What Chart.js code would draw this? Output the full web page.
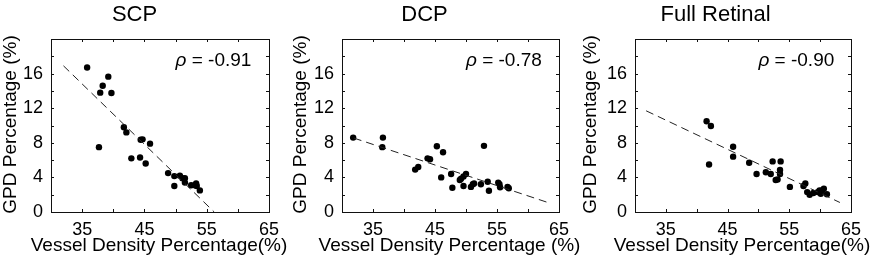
<!DOCTYPE html>
<html>
<head>
<meta charset="utf-8">
<script src="https://cdn.jsdelivr.net/npm/chart.js@4.4.1/dist/chart.umd.min.js"></script>
<style>
  body { margin: 0; background: #fff; }
  #wrap { position: relative; width: 877px; height: 263px; overflow: hidden; }
  .panel { position: absolute; top: 0; }
</style>
</head>
<body>
<div id="wrap">
  <div class="panel" style="left:0px"><canvas id="scpChart" width="300" height="263"></canvas></div>
  <div class="panel" style="left:290px"><canvas id="dcpChart" width="300" height="263"></canvas></div>
  <div class="panel" style="left:580px"><canvas id="fullChart" width="297" height="263"></canvas></div>
</div>
<script>
// tick labels shown on the axes
const xTickLabels = [35, 45, 55, 65];
const yTickLabels = [0, 4, 8, 12, 16];

// SCP
const scpVessel = [35.8, 37.9, 38.3, 39.2, 39.7, 37.7, 41.7, 42.1, 42.9, 44.3, 44.4, 44.7, 45.9, 45.2,
    48.8, 49.8, 49.8, 50.7, 51.1, 51.5, 51.5, 52.5, 53.1, 53.3, 53.4, 53.9];
const scpGpd = [16.7, 13.8, 14.6, 15.65, 13.75, 7.5, 9.8, 9.2, 6.2, 6.3, 8.35, 8.4, 7.9, 5.6,
    4.5, 4.15, 3.0, 4.2, 3.9, 3.9, 3.4, 3.1, 3.1, 3.3, 3.0, 2.5];
const scpFitX = [32, 56.2];
const scpFitY = [16.9, 0];

// DCP
const dcpVessel = [31.8, 36.6, 36.5, 41.8, 42.3, 43.8, 44.2, 45.3, 46.3, 46.0, 47.6, 47.8, 49.0, 49.2,
    49.6, 50.0, 49.6, 50.8, 51.1, 51.3, 52.4, 52.9, 53.5, 53.7, 55.2, 55.4, 55.5, 56.7, 56.9];
const dcpGpd = [8.6, 8.6, 7.5, 4.9, 5.2, 6.2, 6.1, 7.6, 6.9, 4.0, 4.4, 2.8, 3.7, 3.85,
    4.1, 4.4, 3.0, 2.9, 3.2, 3.3, 3.2, 7.65, 3.5, 2.45, 3.4, 3.2, 2.85, 2.9, 2.75];
const dcpFitX = [31.9, 63.2];
const dcpFitY = [8.55, 1.1];

// Full Retinal
const fullVessel = [41.6, 42.3, 42.0, 45.9, 45.9, 48.5, 49.7, 51.2, 52.0, 52.3, 52.8, 53.1, 53.5, 53.5,
    53.6, 55.1, 57.3, 57.6, 57.9, 58.3, 58.9, 59.6, 59.9, 60.3, 60.6, 60.1, 61.1];
const fullGpd = [10.5, 9.95, 5.5, 7.55, 6.4, 5.7, 4.4, 4.6, 4.4, 5.85, 3.7, 3.75, 4.85, 4.4,
    5.85, 2.9, 3.0, 3.3, 2.3, 2.0, 2.2, 2.3, 2.5, 2.5, 2.7, 2.1, 2.05];
const fullFitX = [31.8, 63.2];
const fullFitY = [11.7, 1.1];

const FONT = '"Liberation Sans", Arial, Helvetica, sans-serif';

// box, inner tick marks, axis titles and the correlation label
// (axis titles drawn here because Chart.js squeezes them to the axis length)
const framePlugin = {
    id: 'frame',
    afterDatasetsDraw(chart) {
        const ctx = chart.ctx;
        const a = chart.chartArea;
        const xs = chart.scales.x, ys = chart.scales.y;
        const opts = chart.options.plugins.frame;
        ctx.save();
        ctx.strokeStyle = '#111';
        ctx.lineWidth = 1;
        ctx.beginPath();
        xs.ticks.forEach(t => {
            const px = Math.round(xs.getPixelForValue(t.value)) + 0.5;
            ctx.moveTo(px, a.bottom); ctx.lineTo(px, a.bottom - 3);
            ctx.moveTo(px, a.top); ctx.lineTo(px, a.top + 3);
        });
        ys.ticks.forEach(t => {
            const py = Math.round(ys.getPixelForValue(t.value)) + 0.5;
            ctx.moveTo(a.left, py); ctx.lineTo(a.left + 3, py);
            ctx.moveTo(a.right, py); ctx.lineTo(a.right - 3, py);
        });
        ctx.stroke();
        ctx.strokeRect(Math.round(a.left) + 0.5, Math.round(a.top) + 0.5,
            Math.round(a.right - a.left), Math.round(a.bottom - a.top));

        // rho label
        let x = xs.getPixelForValue(50);
        const y = ys.getPixelForValue(16.9);
        ctx.fillStyle = '#000';
        ctx.textBaseline = 'alphabetic';
        ctx.textAlign = 'left';
        ctx.font = 'italic 19px ' + FONT;
        ctx.fillText('ρ', x, y);
        x += ctx.measureText('ρ').width;
        ctx.font = '19px ' + FONT;
        ctx.fillText(' = ' + opts.rho, x, y);

        // axis titles
        ctx.textAlign = 'center';
        ctx.textBaseline = 'middle';
        ctx.font = '19px ' + FONT;
        ctx.fillText(opts.xTitle, (a.left + a.right) / 2 - 1, a.bottom + 34);
        ctx.translate(11, (a.top + a.bottom) / 2 - 1);
        ctx.rotate(-Math.PI / 2);
        ctx.fillText(opts.yTitle, 0, 0);
        ctx.restore();
    }
};

function makePanel(id, title, vessel, gpd, fitX, fitY, rho, xTitle, yWidth, padRight) {
    const pts = vessel.map((v, i) => ({ x: v, y: gpd[i] }));
    const fit = fitX.map((v, i) => ({ x: v, y: fitY[i] }));
    return new Chart(document.getElementById(id).getContext('2d'), {
        type: 'scatter',
        data: {
            datasets: [
                {
                    type: 'line',
                    data: fit,
                    borderColor: '#222',
                    borderWidth: 1,
                    borderDash: [8, 5],
                    pointRadius: 0,
                    fill: false
                },
                {
                    data: pts,
                    backgroundColor: '#000',
                    borderColor: '#000',
                    pointRadius: 3.2,
                    borderWidth: 0
                }
            ]
        },
        options: {
            responsive: false,
            animation: false,
            layout: { padding: { left: 0, right: padRight, top: 0, bottom: 0 } },
            plugins: {
                legend: { display: false },
                tooltip: { enabled: false },
                title: {
                    display: true,
                    text: title,
                    color: '#000',
                    font: { family: FONT, size: 22, weight: 'normal' },
                    padding: { top: 2, bottom: 10.6 }
                },
                frame: { rho: rho, xTitle: xTitle, yTitle: 'GPD Percentage (%)' }
            },
            scales: {
                x: {
                    type: 'linear',
                    min: 30, max: 65,
                    grid: { display: false, drawTicks: false },
                    border: { display: false },
                    ticks: {
                        stepSize: 5,
                        autoSkip: false,
                        maxRotation: 0,
                        padding: 7,
                        color: '#000',
                        font: { family: FONT, size: 18 },
                        callback: v => xTickLabels.includes(v) ? v : ''
                    },
                    afterFit: s => { s.height = 51; }
                },
                y: {
                    min: 0, max: 20,
                    grid: { display: false, drawTicks: false },
                    border: { display: false },
                    ticks: {
                        stepSize: 2,
                        autoSkip: false,
                        padding: 8,
                        color: '#000',
                        font: { family: FONT, size: 18 },
                        callback: v => yTickLabels.includes(v) ? v : ''
                    },
                    afterFit: s => { s.width = yWidth; }
                }
            }
        },
        plugins: [framePlugin]
    });
}

const scpChart = makePanel('scpChart', 'SCP', scpVessel, scpGpd, scpFitX, scpFitY, '-0.91',
    'Vessel Density Percentage(%)', 51, 31);
const dcpChart = makePanel('dcpChart', 'DCP', dcpVessel, dcpGpd, dcpFitX, dcpFitY, '-0.78',
    'Vessel Density Percentage (%)', 52, 31);
const fullChart = makePanel('fullChart', 'Full Retinal', fullVessel, fullGpd, fullFitX, fullFitY, '-0.90',
    'Vessel Density Percentage(%)', 55, 26);
</script>
</body>
</html>
